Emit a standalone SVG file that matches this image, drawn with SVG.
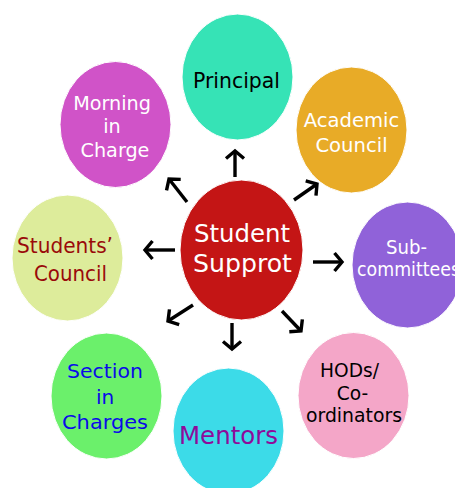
<svg xmlns="http://www.w3.org/2000/svg" width="455" height="488" viewBox="0 0 455 488">
<defs>
<style>
.n{stroke:#ffffff;stroke-width:1}
.t{font-family:"DejaVu Sans","Verdana",sans-serif;text-anchor:middle}
.c line{stroke:#000;stroke-width:3.4;marker-end:url(#ah)}
</style>
<marker id="ah" markerUnits="userSpaceOnUse" markerWidth="24" markerHeight="24" viewBox="-12 -12 24 24" refX="0" refY="0" orient="auto">
<path d="M-7.5,-9 L0,0 L-7.5,9" fill="none" stroke="#000" stroke-width="3.4" stroke-linejoin="miter"/>
</marker>
</defs>
<rect width="455" height="488" fill="#ffffff"/>
<g id="principal"><ellipse class="n" cx="237.5" cy="77" rx="55.5" ry="63" fill="#36e3b6"/><text class="t" x="236.5" y="88" font-size="21.5" textLength="87" lengthAdjust="spacingAndGlyphs" fill="#000">Principal</text></g>
<g id="morning"><ellipse class="n" cx="115.5" cy="124.5" rx="55.5" ry="63" fill="#d053c8"/><g class="t" font-size="19.2" fill="#fff"><text x="112" y="110">Morning</text><text x="112" y="133">in</text><text x="115" y="157">Charge</text></g></g>
<g id="academic"><ellipse class="n" cx="351.5" cy="130" rx="55.5" ry="63" fill="#e8ab27"/><g class="t" font-size="19.6" fill="#fff"><text x="351.5" y="127">Academic</text><text x="351.5" y="152">Council</text></g></g>
<g id="students-council"><ellipse class="n" cx="67.5" cy="258" rx="55.5" ry="63" fill="#ddec9b"/><g class="t" font-size="22" fill="#9a0a0a"><text x="65" y="253" textLength="96" lengthAdjust="spacingAndGlyphs">Students’</text><text x="70.5" y="281" textLength="73" lengthAdjust="spacingAndGlyphs">Council</text></g></g>
<g id="sub-committees"><ellipse class="n" cx="407.5" cy="265" rx="55.5" ry="63" fill="#9062d9"/><g class="t" font-size="20" fill="#fff"><text x="406.5" y="254" textLength="41" lengthAdjust="spacingAndGlyphs">Sub-</text><text x="357" y="276" text-anchor="start" textLength="103" lengthAdjust="spacingAndGlyphs">committees</text></g></g>
<g id="section"><ellipse class="n" cx="106.5" cy="396" rx="55.5" ry="63" fill="#6bf06b"/><g class="t" font-size="20" fill="#0a0ae8"><text x="105" y="378" textLength="76" lengthAdjust="spacingAndGlyphs">Section</text><text x="105" y="404">in</text><text x="105" y="429" textLength="86" lengthAdjust="spacingAndGlyphs">Charges</text></g></g>
<g id="mentors"><ellipse class="n" cx="228.5" cy="431" rx="55.5" ry="63" fill="#3cdbe8"/><text class="t" x="228.5" y="444" font-size="25" textLength="99" lengthAdjust="spacingAndGlyphs" fill="#8e0c9a">Mentors</text></g>
<g id="hods"><ellipse class="n" cx="353.5" cy="395.5" rx="55.5" ry="63" fill="#f4a6c8"/><g class="t" font-size="18.6" fill="#000"><text x="349.5" y="377">HODs/</text><text x="352.5" y="400">Co-</text><text x="354" y="422" textLength="96" lengthAdjust="spacingAndGlyphs">ordinators</text></g></g>
<g id="student-support"><ellipse class="n" cx="241.5" cy="250" rx="61.5" ry="70" fill="#c41515"/><g class="t" font-size="25" fill="#fff"><text x="242" y="242" textLength="96" lengthAdjust="spacingAndGlyphs">Student</text><text x="242.5" y="272" textLength="99" lengthAdjust="spacingAndGlyphs">Supprot</text></g></g>
<g id="connectors" class="c">
<line x1="235" y1="177" x2="235" y2="151"/>
<line x1="187" y1="202" x2="169" y2="179"/>
<line x1="294" y1="200" x2="317" y2="184"/>
<line x1="175" y1="250" x2="145" y2="250"/>
<line x1="313" y1="262" x2="342" y2="262"/>
<line x1="193" y1="305" x2="168" y2="321"/>
<line x1="232" y1="323" x2="232" y2="349"/>
<line x1="282" y1="311" x2="301" y2="331"/>
</g>
</svg>
